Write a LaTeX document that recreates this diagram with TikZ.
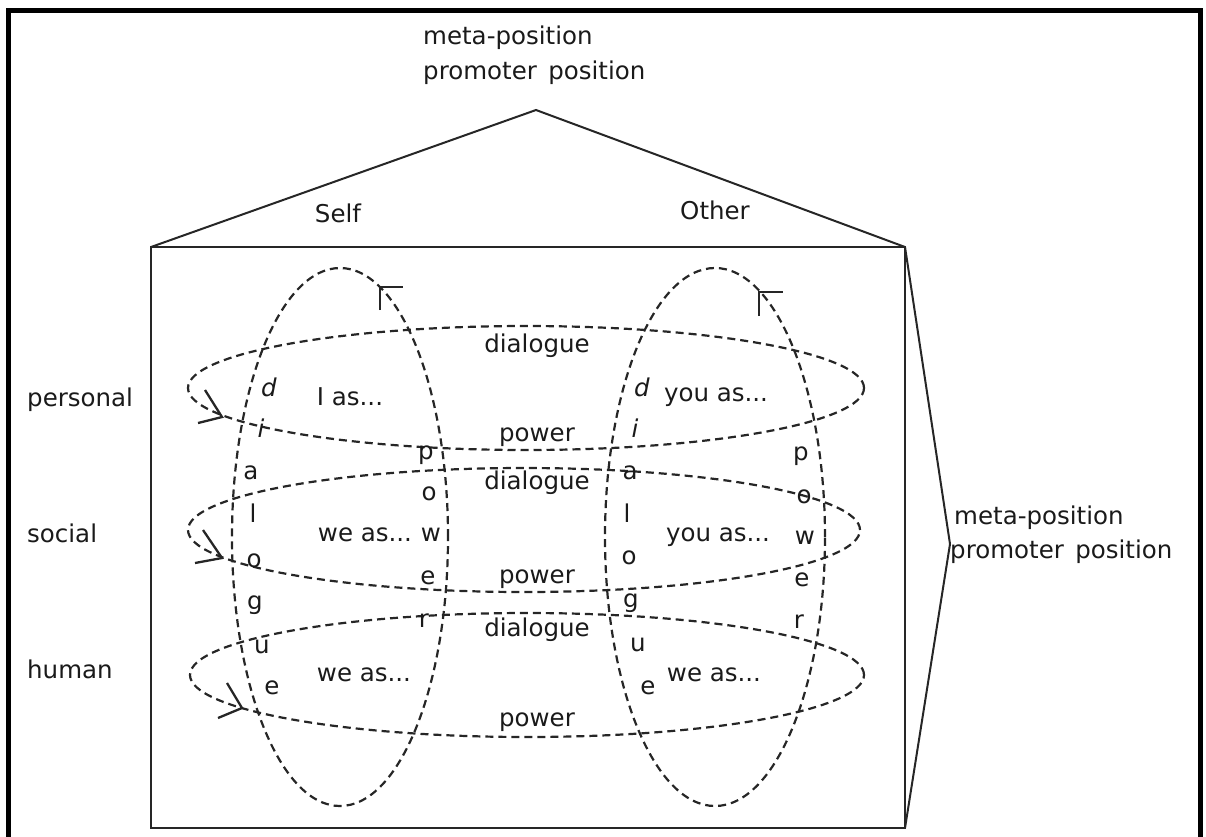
\documentclass[tikz,border=0pt]{standalone}
\usepackage{fontspec}
\setmainfont{DejaVu Sans}
\definecolor{txt}{HTML}{1A1A1A}
\definecolor{dsh}{HTML}{262626}
\begin{document}
\begin{tikzpicture}[x=1pt,y=-1pt,
  font=\fontsize{24.5}{29}\selectfont,
  every node/.style={inner sep=0pt, text=txt},
  lbl/.style={anchor=west},
  ital/.style={font=\fontsize{24.5}{29}\selectfont\itshape},
  dashline/.style={draw=dsh, line width=2.2pt, dash pattern=on 8pt off 5pt},
  solidline/.style={draw=black!85, line width=2pt},
  headline/.style={draw=black!85, line width=2.3pt},
  frameline/.style={draw=black, line width=5pt}]
\useasboundingbox (0,0) rectangle (1206,836);
% outer frame
\draw[frameline] (8,850) -- (8,10) -- (1200,10) -- (1200,850);
% house
\coordinate (bl) at (151,828);
\coordinate (tl) at (151,247);
\coordinate (tr) at (905,247);
\coordinate (br) at (905,828);
\coordinate (apex) at (536,110);
\coordinate (rapex) at (950,544);
\draw[solidline] (bl) -- (tl) -- (tr) -- (br) -- cycle;
\draw[solidline] (tl) -- (apex) -- (tr);
\draw[solidline] (tr) -- (rapex) -- (br);
% vertical ellipses
\draw[dashline] (340,537) ellipse [x radius=108pt, y radius=269pt];
\draw[dashline] (715,537) ellipse [x radius=110pt, y radius=269pt];
% horizontal ellipses
\draw[dashline] (526,388) ellipse [x radius=338pt, y radius=62pt];
\draw[dashline] (524,530) ellipse [x radius=336pt, y radius=62pt];
\draw[dashline] (527,675) ellipse [x radius=337pt, y radius=62pt];
% arrowheads
\coordinate (ah1) at (380,287);
\draw[headline] (380,310) -- (ah1) -- (403,287);
\coordinate (ah2) at (759,292);
\draw[headline] (759,316) -- (ah2) -- (783,292);
\coordinate (ah3) at (222,417);
\draw[headline] (205,390) -- (ah3) -- (198,423);
\coordinate (ah4) at (222,558);
\draw[headline] (203,530) -- (ah4) -- (195,563);
\coordinate (ah5) at (242,708);
\draw[headline] (227,683) -- (ah5) -- (218,718);
% top labels
\node[lbl] (mp1) at (423,38) {meta-position};
\node[lbl] (pp1) at (423,73) {promoter\hspace{0.15em} position};
\node[lbl] (mp2) at (954,518) {meta-position};
\node[lbl] (pp2) at (950,552) {promoter\hspace{0.15em} position};
\node (self) at (338,213) {Self};
\node (other) at (715,210) {Other};
\node[lbl] (personal) at (27,400) {personal};
\node[lbl] (social) at (27,533) {social};
\node[lbl] (human) at (27,669) {human};
% inner labels
\node (dl1) at (537,346) {dialogue};
\node (pw1) at (537,437) {power};
\node (dl2) at (537,483) {dialogue};
\node (pw2) at (537,579) {power};
\node (dl3) at (537,630) {dialogue};
\node (pw3) at (537,722) {power};
\node (ias) at (350,397) {I as...};
\node (youas1) at (716,397) {you as...};
\node (weas1) at (365,535) {we as...};
\node (youas2) at (718,537) {you as...};
\node (weas2) at (364,675) {we as...};
\node (weas3) at (714,675) {we as...};
% left dialogue column
\node[ital] (ld1) at (269,387) {d};
\node[ital] (ld2) at (261,428) {i};
\node (ld3) at (251,473) {a};
\node (ld4) at (253,513) {l};
\node (ld5) at (254,561) {o};
\node (ld6) at (255,605) {g};
\node (ld7) at (262,647) {u};
\node (ld8) at (272,688) {e};
% left power column
\node (lp1) at (426,455) {p};
\node (lp2) at (429,494) {o};
\node (lp3) at (431,535) {w};
\node (lp4) at (428,578) {e};
\node (lp5) at (424,621) {r};
% right dialogue column
\node[ital] (rd1) at (642,387) {d};
\node[ital] (rd2) at (635,428) {i};
\node (rd3) at (630,473) {a};
\node (rd4) at (627,513) {l};
\node (rd5) at (629,558) {o};
\node (rd6) at (631,603) {g};
\node (rd7) at (638,645) {u};
\node (rd8) at (648,688) {e};
% right power column
\node (rp1) at (801,456) {p};
\node (rp2) at (804,497) {o};
\node (rp3) at (805,538) {w};
\node (rp4) at (802,580) {e};
\node (rp5) at (799,622) {r};
\end{tikzpicture}
\end{document}
